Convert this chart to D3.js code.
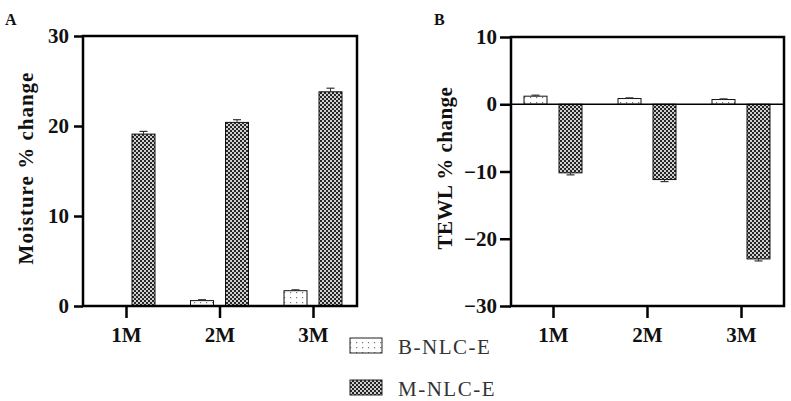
<!DOCTYPE html>
<html>
<head>
<meta charset="utf-8">
<script src="https://cdn.jsdelivr.net/npm/d3@7"></script>
<style>
  body { margin: 0; background: #fff; }
  text { font-family: "Liberation Serif", "Times New Roman", serif; }
</style>
</head>
<body>
<svg id="plt"></svg>
<script>
// data
const categories = ["1M", "2M", "3M"];
const seriesNames = ["B-NLC-E", "M-NLC-E"];

const moistureB = [0, 0.6, 1.7];
const moistureBErr = [0, 0.1, 0.1];
const moistureM = [19.1, 20.4, 23.8];
const moistureMErr = [0.3, 0.3, 0.4];

const tewlB = [1.2, 0.85, 0.7];
const tewlBErr = [0.15, 0.1, 0.1];
const tewlM = [-10.2, -11.2, -23.0];
const tewlMErr = [0.3, 0.3, 0.3];

const moistureTicks = [0, 10, 20, 30];
const tewlTicks = [-30, -20, -10, 0, 10];

const W = 791, H = 401;
const svg = d3.select("#plt").attr("width", W).attr("height", H);

// fill patterns
const defs = svg.append("defs");
const pm = defs.append("pattern").attr("id", "patM")
    .attr("patternUnits", "userSpaceOnUse").attr("width", 4).attr("height", 4);
pm.append("rect").attr("width", 4).attr("height", 4).attr("fill", "#cfcfcf");
pm.append("rect").attr("width", 2).attr("height", 2).attr("fill", "#262626");
pm.append("rect").attr("x", 2).attr("y", 2).attr("width", 2).attr("height", 2).attr("fill", "#262626");

const pb = defs.append("pattern").attr("id", "patB")
    .attr("patternUnits", "userSpaceOnUse").attr("width", 6).attr("height", 5);
pb.append("rect").attr("width", 6).attr("height", 5).attr("fill", "#fff");
pb.append("rect").attr("x", 2).attr("y", 2).attr("width", 1.2).attr("height", 1.2).attr("fill", "#777");

const fills = {"B-NLC-E": "url(#patB)", "M-NLC-E": "url(#patM)"};

function panel(opts) {
    const g = svg.append("g");
    const y = d3.scaleLinear().domain(opts.domain).range([306, opts.top]);
    const x = d3.scalePoint().domain(categories).range(opts.centers);
    const off = d3.scalePoint().domain(seriesNames).range([-17.5, 17.5]);
    const bw = 23;

    const rows = [];
    categories.forEach(function (c, i) {
        rows.push({cat: c, s: "B-NLC-E", v: opts.b[i], e: opts.bErr[i]});
        rows.push({cat: c, s: "M-NLC-E", v: opts.m[i], e: opts.mErr[i]});
    });

    // bars
    g.selectAll(".bar").data(rows.filter(d => d.v !== 0)).enter().append("rect")
        .attr("x", d => x(d.cat) + off(d.s) - bw / 2)
        .attr("width", bw)
        .attr("y", d => Math.min(y(d.v), y(0)))
        .attr("height", d => Math.abs(y(d.v) - y(0)))
        .attr("fill", d => fills[d.s])
        .attr("stroke", "#111").attr("stroke-width", 1);

    // error bars (one-sided, away from zero)
    const eb = g.selectAll(".err").data(rows.filter(d => d.e > 0)).enter().append("g");
    eb.append("line")
        .attr("x1", d => x(d.cat) + off(d.s)).attr("x2", d => x(d.cat) + off(d.s))
        .attr("y1", d => y(d.v)).attr("y2", d => y(d.v + Math.sign(d.v) * d.e))
        .attr("stroke", "#333").attr("stroke-width", 1);
    eb.append("line")
        .attr("x1", d => x(d.cat) + off(d.s) - 4).attr("x2", d => x(d.cat) + off(d.s) + 4)
        .attr("y1", d => y(d.v + Math.sign(d.v) * d.e)).attr("y2", d => y(d.v + Math.sign(d.v) * d.e))
        .attr("stroke", "#333").attr("stroke-width", 1.2);

    // zero line
    if (opts.domain[0] < 0) {
        g.append("line").attr("x1", opts.left).attr("x2", opts.right)
            .attr("y1", y(0)).attr("y2", y(0))
            .attr("stroke", "#000").attr("stroke-width", 1.6);
    }

    // frame
    g.append("rect").attr("x", opts.left).attr("y", y(opts.domain[1]))
        .attr("width", opts.right - opts.left).attr("height", 306 - y(opts.domain[1]))
        .attr("fill", "none").attr("stroke", "#000").attr("stroke-width", 2.5);

    // y axis
    const ya = g.append("g").attr("transform", "translate(" + opts.left + ",0)")
        .call(d3.axisLeft(y).tickValues(opts.ticks).tickSize(opts.tickLen).tickPadding(opts.pad));
    ya.select(".domain").remove();
    ya.selectAll("line").attr("stroke", "#000").attr("stroke-width", 2.5);
    ya.selectAll("text").attr("font-weight", "bold")
        .attr("font-size", 21).attr("fill", "#111");

    // x axis
    const xa = g.append("g").attr("transform", "translate(0,306)")
        .call(d3.axisBottom(x).tickSize(12));
    xa.select(".domain").remove();
    xa.selectAll("line").attr("stroke", "#000").attr("stroke-width", 2.5);
    xa.selectAll("text").attr("y", 36).attr("dy", 0)
        .attr("font-weight", "bold")
        .attr("font-size", 21).attr("fill", "#111");

    // y label
    g.append("text")
        .attr("transform", "translate(" + opts.labelX + ",168) rotate(-90)")
        .attr("text-anchor", "middle")
        .attr("font-weight", "bold").attr("font-size", 21)
        .attr("letter-spacing", opts.ls)
        .attr("fill", "#111")
        .text(opts.label);

    // panel letter
    g.append("text").attr("x", opts.letterX).attr("y", 25)
        .attr("font-weight", "bold").attr("font-size", 16).attr("fill", "#111")
        .text(opts.letter);
}

panel({
    domain: [0, 30], top: 36, ticks: moistureTicks,
    left: 83, right: 357, centers: [126, 313],
    b: moistureB, bErr: moistureBErr, m: moistureM, mErr: moistureMErr,
    tickLen: 9, pad: 5, label: "Moisture % change", labelX: 33, ls: 1,
    letter: "A", letterX: 5
});

panel({
    domain: [-30, 10], top: 37, ticks: tewlTicks,
    left: 511, right: 784, centers: [553, 741],
    b: tewlB, bErr: tewlBErr, m: tewlM, mErr: tewlMErr,
    tickLen: 11, pad: 3, label: "TEWL % change", labelX: 452, ls: 0.5,
    letter: "B", letterX: 434
});

// legend
const leg = svg.append("g");
seriesNames.forEach(function (s, i) {
    const yy = 338 + i * 42;
    leg.append("rect").attr("x", 350).attr("y", yy).attr("width", 32).attr("height", 15)
        .attr("fill", fills[s]).attr("stroke", "#222").attr("stroke-width", 1);
    leg.append("text").attr("x", 398).attr("y", yy + 16)
        .attr("font-size", 21).attr("letter-spacing", 1.5).attr("fill", "#333")
        .text(s);
});
</script>
</body>
</html>
